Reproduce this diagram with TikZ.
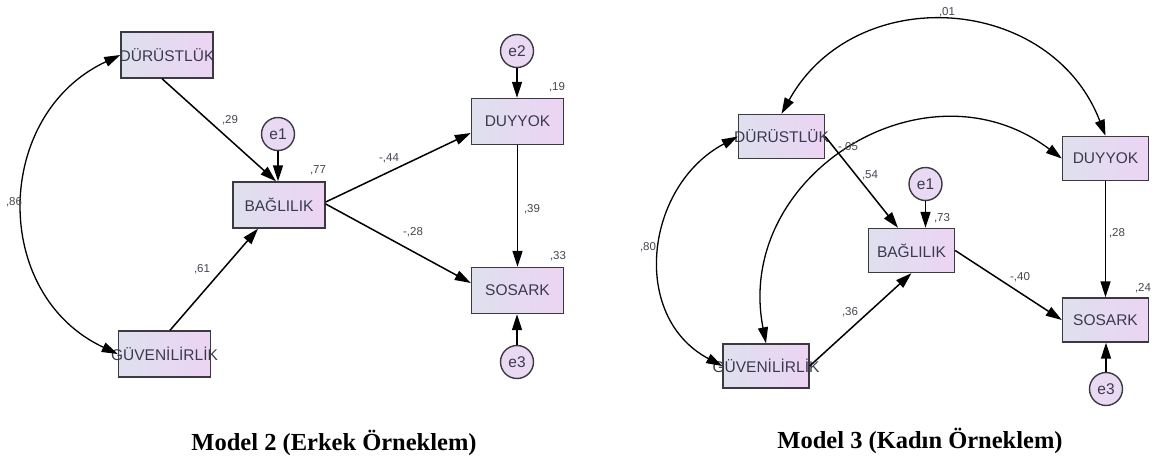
\documentclass[tikz,border=0pt]{standalone}
\usepackage{fontspec}
\setmainfont{Liberation Sans}
\newfontfamily\titlefont{Liberation Serif}
\usetikzlibrary{arrows.meta}

\definecolor{boxL}{RGB}{222,224,238}
\definecolor{boxR}{RGB}{236,212,243}
\definecolor{errfill}{RGB}{233,217,242}
\definecolor{edgegray}{RGB}{58,58,64}
\definecolor{labelgray}{RGB}{58,58,78}
\definecolor{coefgray}{RGB}{70,70,80}

\begin{document}
\begin{tikzpicture}[x=1pt,y=-1pt,
  varbox/.style={draw=edgegray, line width=1.4pt, left color=boxL, right color=boxR,
    inner sep=0pt, text=labelgray, font=\fontsize{15.5}{18}\selectfont},
  lbox/.style={varbox, minimum width=92pt, minimum height=46pt},
  rbox/.style={varbox, minimum width=86pt, minimum height=44pt},
  err/.style={circle, draw=edgegray, line width=1.4pt, fill=errfill, minimum size=33pt,
    inner sep=0pt, text=labelgray, font=\fontsize{15.5}{18}\selectfont},
  coef/.style={inner sep=0pt, text=coefgray, font=\fontsize{11.5}{13}\selectfont},
  ttl/.style={inner sep=0pt, font=\fontsize{24.5}{28}\titlefont\bfseries},
  tip/.tip={Triangle[length=16pt,width=10pt]},
  path/.style={draw=black, line width=1.5pt, -tip},
  cov/.style={draw=black, line width=1.3pt, tip-tip}
]
\fill[white] (0,0) rectangle (1162,458);
\useasboundingbox (0,0) rectangle (1162,458);

% ---------------- Model 2 ----------------
\node[lbox] (dur1) at (167,55)    {\makebox[0pt]{DÜRÜSTLÜK}};
\node[lbox] (bag1) at (279,205)   {\makebox[0pt]{BAĞLILIK}};
\node[lbox] (guv1) at (164.5,354) {\makebox[0pt]{GÜVENİLİRLİK}};
\node[lbox] (duy1) at (517.5,121.5) {\makebox[0pt]{DUYYOK}};
\node[lbox] (sos1) at (517.5,290.5) {\makebox[0pt]{SOSARK}};
\node[err] (e1a) at (278,134) {e1};
\node[err] (e2a) at (517,51)  {e2};
\node[err] (e3a) at (517,362) {e3};

\draw[cov] (dur1.west) to[out=205,in=155,looseness=1.2] (guv1.west);
\draw[path] ([xshift=-5pt]dur1.south) -- ([xshift=-3pt]bag1.north);
\draw[path] (e1a.south) -- (e1a.south |- bag1.north);
\draw[path] ([xshift=5.5pt]guv1.north) -- ([xshift=-21pt]bag1.south);
\draw[path] ([yshift=3pt]bag1.east) -- ([yshift=-11.5pt]duy1.west);
\draw[path] ([yshift=1pt]bag1.east) -- ([yshift=7.5pt]sos1.west);
\draw[path] (duy1.south) -- (sos1.north);
\draw[path] (e2a.south) -- (e2a.south |- duy1.north);
\draw[path] (e3a.north) -- (e3a.north |- sos1.south);

\node[coef] (c86) at (14,202)  {,86};
\node[coef] (c29) at (230,120) {,29};
\node[coef] (c61) at (202,269) {,61};
\node[coef] (c77) at (318,170) {,77};
\node[coef] (c44) at (389,158) {-,44};
\node[coef] (c28) at (413,232) {-,28};
\node[coef] (c19) at (557,87)  {,19};
\node[coef] (c39) at (532,209) {,39};
\node[coef] (c33) at (558,256) {,33};

\node[ttl] (t2) at (334,443) {Model 2 (Erkek Örneklem)};

% ---------------- Model 3 ----------------
\node[rbox] (dur2) at (781.5,136.5) {\makebox[0pt]{DÜRÜSTLÜK}};
\node[rbox] (duy2) at (1105.5,158.5) {\makebox[0pt]{DUYYOK}};
\node[rbox] (bag2) at (911.5,250.5) {\makebox[0pt]{BAĞLILIK}};
\node[rbox] (sos2) at (1105.5,320)  {\makebox[0pt]{SOSARK}};
\node[rbox] (guv2) at (766,366)     {\makebox[0pt]{GÜVENİLİRLİK}};
\node[err] (e1b) at (925.5,184) {e1};
\node[err] (e3b) at (1106,389)  {e3};

\draw[cov] (dur2.north) to[out=61,in=111,looseness=1.2] (duy2.north);
\draw[cov] (guv2.north) to[out=101,in=143,looseness=1.25] (duy2.west);
\draw[cov] (dur2.west) to[out=208,in=152,looseness=1.17] (guv2.west);
\draw[path] (dur2.east) -- ([xshift=-13.5pt]bag2.north);
\draw[path] (e1b.south) -- (e1b.south |- bag2.north);
\draw[path] (guv2.east) -- (bag2.south);
\draw[path] (bag2.east) -- (sos2.west);
\draw[path] (duy2.south) -- (sos2.north);
\draw[path] (e3b.north) -- (e3b.north |- sos2.south);

\node[coef] (c01) at (947,12)   {,01};
\node[coef] (c05) at (848,147)  {-,05};
\node[coef] (c54) at (870,175)  {,54};
\node[coef] (c73) at (942,218)  {,73};
\node[coef] (c80) at (648,247)  {,80};
\node[coef] (c28b) at (1117,233) {,28};
\node[coef] (c40) at (1020,277) {-,40};
\node[coef] (c36) at (850,312)  {,36};
\node[coef] (c24) at (1143,288) {,24};

\node[ttl] (t3) at (920,441) {Model 3 (Kadın Örneklem)};
\end{tikzpicture}
\end{document}
